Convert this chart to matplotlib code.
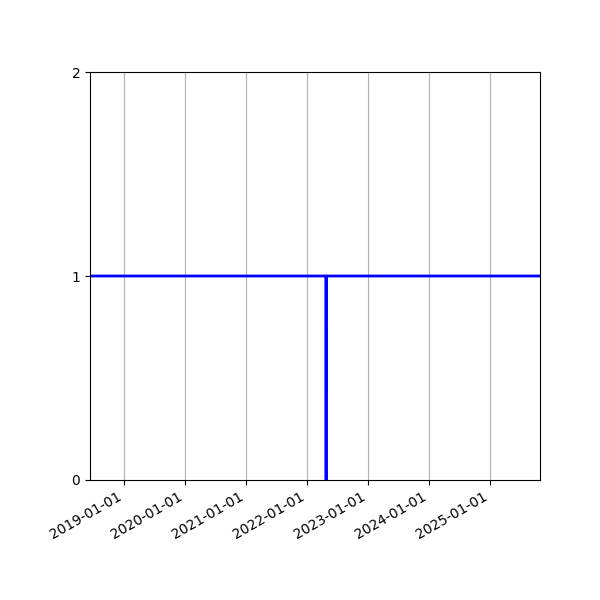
import numpy as np
import pandas as pd
import matplotlib
matplotlib.use("Agg")
import matplotlib.pyplot as plt

# availability series: up the whole time except one day in spring 2022
dates = pd.to_datetime(["2018-06-10", "2022-04-23", "2022-04-24", "2022-04-25", "2025-10-26"])
values = [1, 1, 0, 1, 1]
y_ticks = [0, 1, 2]

fig, ax = plt.subplots(figsize=(6, 6), dpi=100)
ax.plot(dates, values, color="blue", linewidth=2)
ax.set_xlim(dates[0], dates[-1])
ax.set_ylim(0, 2)
ax.set_yticks(y_ticks)
ax.grid(axis="x")

import matplotlib.dates as mdates
ax.xaxis.set_major_locator(mdates.YearLocator())
ax.xaxis.set_major_formatter(mdates.DateFormatter("%Y-%m-%d"))
fig.autofmt_xdate()
fig.subplots_adjust(left=0.15, right=0.9, top=0.88, bottom=0.2)

plt.savefig("out.png", dpi=100)
